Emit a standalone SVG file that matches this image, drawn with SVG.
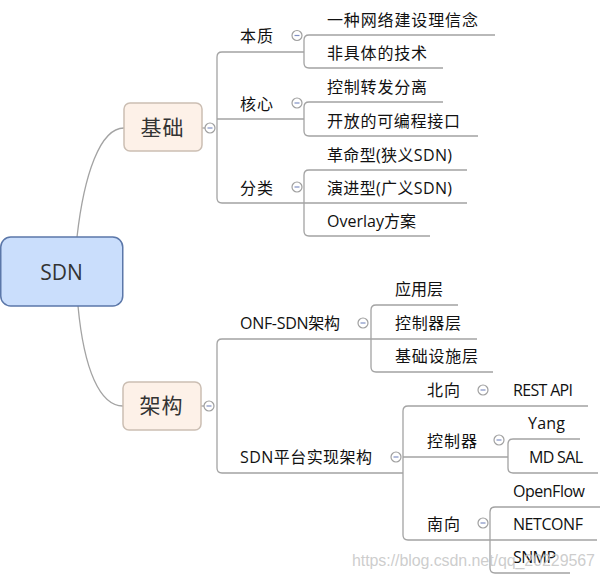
<svg xmlns="http://www.w3.org/2000/svg" width="605" height="581" viewBox="0 0 605 581">
<style>
.ln{fill:none;stroke:#a3a3a3;stroke-width:1.3}
.t{font-family:"Open Sans","Noto Sans CJK SC",sans-serif;font-size:16px;fill:#111}
.big{font-family:"Open Sans","Noto Sans CJK SC",sans-serif;font-size:21px;fill:#333;text-anchor:middle}
.cc{fill:#fff;stroke:#a0a0a0;stroke-width:1.2}
.cm{stroke:#8090c4;stroke-width:1.2}
.sub{fill:#fdf1e8;stroke:#cbbeb3;stroke-width:1.5}
</style>
<defs>
<g id="col"><circle class="cc" r="5"/><line class="cm" x1="-2.5" y1="0" x2="2.5" y2="0"/></g>
</defs>
<g id="connectors">
<path class="ln" d="M77,237 C84,175 100,128 124,128"/>
<path class="ln" d="M78,306 C84,370 100,406 123,406"/>
<line class="ln" x1="202" y1="128" x2="205" y2="128"/>
<line class="ln" x1="201" y1="406" x2="204" y2="406"/>
<path class="ln" d="M304,52 L222,52 Q217,52 217,57 L217,198 Q217,203 222,203 L467,203"/>
<line class="ln" x1="217" y1="119" x2="304" y2="119"/>
<path class="ln" d="M495,35 L309,35 Q304,35 304,40 L304,63 Q304,68 309,68 L443,68"/>
<path class="ln" d="M443,102 L309,102 Q304,102 304,107 L304,131 Q304,136 309,136 L478,136"/>
<path class="ln" d="M467,170 L309,170 Q304,170 304,175 L304,231 Q304,236 309,236 L430,236"/>
<path class="ln" d="M371,339 L222,339 Q217,339 217,344 L217,468 Q217,473 222,473 L403,473"/>
<path class="ln" d="M458,305 L376,305 Q371,305 371,310 L371,367 Q371,372 376,372 L493,372"/>
<line class="ln" x1="371" y1="339" x2="477" y2="339"/>
<path class="ln" d="M588,406 L408,406 Q403,406 403,411 L403,535 Q403,540 408,540 L490,540"/>
<line class="ln" x1="403" y1="457" x2="508" y2="457"/>
<path class="ln" d="M580,439 L513,439 Q508,439 508,444 L508,468 Q508,473 513,473 L598,473"/>
<path class="ln" d="M600,507 L495,507 Q490,507 490,512 L490,568 Q490,573 495,573 L570,573"/>
<line class="ln" x1="490" y1="540" x2="597" y2="540"/>
</g>
<g id="n-sdn">
<rect x="0.75" y="237" width="122" height="69" rx="10" fill="#cadefc" stroke="#5b77a9" stroke-width="1.5"/>
<text class="big" x="61.5" y="280" font-size="24" fill="#404040">SDN</text>
</g>
<g id="n-jichu">
<rect class="sub" x="124" y="103" width="78" height="48" rx="6"/>
<text class="big" x="162" y="135" textLength="43">基础</text>
<use href="#col" x="210" y="128"/>
</g>
<g id="n-jiagou">
<rect class="sub" x="123" y="382" width="78" height="48" rx="6"/>
<text class="big" x="161" y="413" textLength="43">架构</text>
<use href="#col" x="209" y="406"/>
</g>
<g id="n-benzhi"><text class="t" x="240" y="42" textLength="33">本质</text><use href="#col" x="297" y="35.5"/></g>
<g id="n-hexin"><text class="t" x="240" y="110" textLength="33">核心</text><use href="#col" x="297" y="103"/></g>
<g id="n-fenlei"><text class="t" x="240" y="194" textLength="33">分类</text><use href="#col" x="297" y="187"/></g>
<g id="n-c1"><text class="t" x="327" y="26" textLength="151">一种网络建设理信念</text></g>
<g id="n-c2"><text class="t" x="327" y="59" textLength="100">非具体的技术</text></g>
<g id="n-c3"><text class="t" x="327" y="93" textLength="100">控制转发分离</text></g>
<g id="n-c4"><text class="t" x="327" y="127" textLength="133">开放的可编程接口</text></g>
<g id="n-c5"><text class="t" x="327" y="161" textLength="125">革命型(狭义SDN)</text></g>
<g id="n-c6"><text class="t" x="327" y="194" textLength="125">演进型(广义SDN)</text></g>
<g id="n-c7"><text class="t" x="327" y="227" textLength="89">Overlay方案</text></g>
<g id="n-onf"><text class="t" x="240" y="329" textLength="100">ONF-SDN架构</text><use href="#col" x="363" y="323"/></g>
<g id="n-plat"><text class="t" x="240" y="463" textLength="132">SDN平台实现架构</text><use href="#col" x="396" y="457"/></g>
<g id="n-app"><text class="t" x="395" y="295" textLength="48">应用层</text></g>
<g id="n-ctl"><text class="t" x="395" y="329" textLength="66">控制器层</text></g>
<g id="n-infra"><text class="t" x="395" y="362" textLength="83">基础设施层</text></g>
<g id="n-north"><text class="t" x="427" y="396" textLength="33">北向</text><use href="#col" x="483" y="390"/></g>
<g id="n-rest"><text class="t" x="513" y="396" textLength="60">REST API</text></g>
<g id="n-ctrl"><text class="t" x="427" y="447" textLength="50">控制器</text><use href="#col" x="499" y="440"/></g>
<g id="n-yang"><text class="t" x="528" y="429" textLength="37">Yang</text></g>
<g id="n-mdsal"><text class="t" x="529" y="463" textLength="54">MD SAL</text></g>
<g id="n-south"><text class="t" x="427" y="530" textLength="33">南向</text><use href="#col" x="483" y="523"/></g>
<g id="n-of"><text class="t" x="513" y="497" textLength="72">OpenFlow</text></g>
<g id="n-nc"><text class="t" x="513" y="530" textLength="70">NETCONF</text></g>
<g id="n-snmp"><text class="t" x="513" y="563" textLength="43">SNMP</text></g>
<text x="352" y="566" font-family="Liberation Sans, Arial, sans-serif" font-size="16" textLength="243" fill="#c4c4c4" fill-opacity="0.85">https://blog.csdn.net/qq_20229567</text>
</svg>
